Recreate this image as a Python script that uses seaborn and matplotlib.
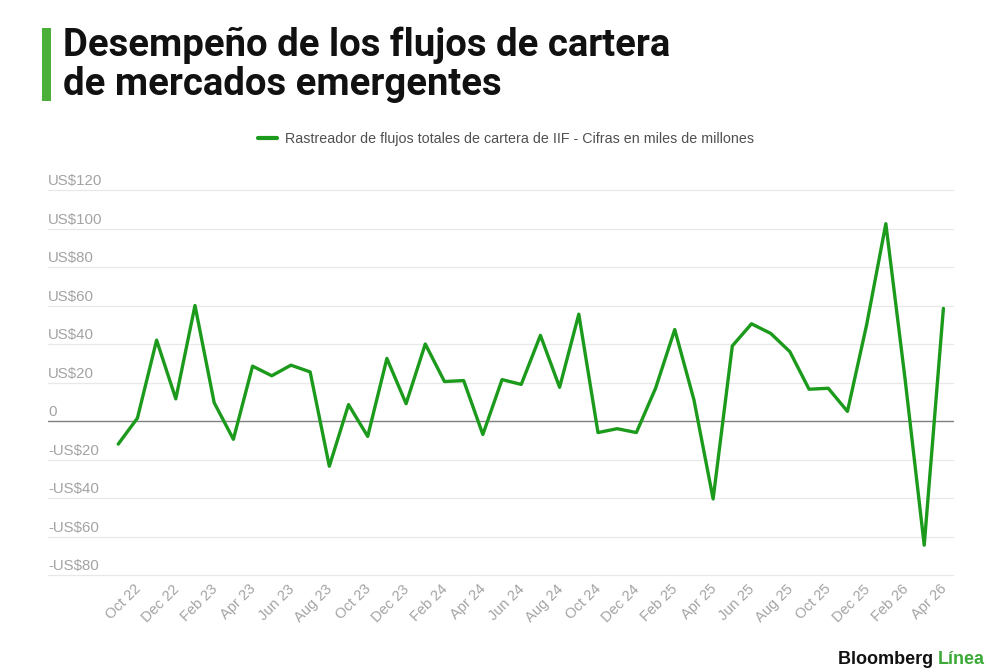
import numpy as np
import pandas as pd
import matplotlib
matplotlib.use("Agg")
import matplotlib.pyplot as plt
from matplotlib.patches import Rectangle
from matplotlib.transforms import ScaledTranslation
import seaborn as sns

# ---- data ----
months = ["Sep 22", "Oct 22", "Nov 22", "Dec 22", "Jan 23", "Feb 23", "Mar 23", "Apr 23",
          "May 23", "Jun 23", "Jul 23", "Aug 23", "Sep 23", "Oct 23", "Nov 23", "Dec 23",
          "Jan 24", "Feb 24", "Mar 24", "Apr 24", "May 24", "Jun 24", "Jul 24", "Aug 24",
          "Sep 24", "Oct 24", "Nov 24", "Dec 24", "Jan 25", "Feb 25", "Mar 25", "Apr 25",
          "May 25", "Jun 25", "Jul 25", "Aug 25", "Sep 25", "Oct 25", "Nov 25", "Dec 25",
          "Jan 26", "Feb 26", "Mar 26", "Apr 26"]
flows = [-12, 1.5, 42, 11.5, 60, 9.5, -9.5, 28.5, 23.5, 29, 25.5, -23.5, 8.5, -8, 32.5,
         9, 40, 20.5, 21, -7, 21.5, 19, 44.5, 17.5, 55.5, -6, -4, -6, 17, 47.5, 11,
         -40.5, 39, 50.5, 45.5, 36, 16.5, 17, 5, 50, 102.5, 22, -64.5, 58.5]
tick_labels = ["Oct 22", "Dec 22", "Feb 23", "Apr 23", "Jun 23", "Aug 23", "Oct 23",
               "Dec 23", "Feb 24", "Apr 24", "Jun 24", "Aug 24", "Oct 24", "Dec 24",
               "Feb 25", "Apr 25", "Jun 25", "Aug 25", "Oct 25", "Dec 25", "Feb 26", "Apr 26"]
y_ticks = [-80, -60, -40, -20, 0, 20, 40, 60, 80, 100, 120]
y_tick_labels = ["-US$80", "-US$60", "-US$40", "-US$20", "0", "US$20", "US$40",
                 "US$60", "US$80", "US$100", "US$120"]
series_name = "Rastreador de flujos totales de cartera de IIF - Cifras en miles de millones"
title = "Desempeño de los flujos de cartera\nde mercados emergentes"

df = pd.DataFrame({"pos": np.arange(len(months)), "month": months, "flow": flows})

sns.set_theme(style="white")
plt.rcParams["font.family"] = ["Liberation Sans", "DejaVu Sans"]

GREEN = "#1c9a1c"
GRAY_TXT = "#a3a3a3"

fig = plt.figure(figsize=(10, 6.69), dpi=100)
fig.patch.set_facecolor("white")
ax = fig.add_axes([0.048, 1 - 575 / 669, 0.905, (575 - 190) / 669])

sns.lineplot(data=df, x="pos", y="flow", ax=ax, color=GREEN, linewidth=2.4,
             label=series_name, legend=False)

ax.set_xlim(-3.66, 43.5)
ax.set_ylim(-80, 120)
for s in ax.spines.values():
    s.set_visible(False)

# gridlines
for v in y_ticks:
    ax.axhline(v, color="#7f7f7f" if v == 0 else "#e8e8e8",
               linewidth=1.0 if v == 0 else 0.9, zorder=0, clip_on=False)

ax.set_yticks([])
for v, lab in zip(y_ticks, y_tick_labels):
    ax.text(0.0, v + 1.0, lab, transform=ax.get_yaxis_transform(), ha="left",
            va="bottom", fontsize=10.8, color=GRAY_TXT)

tick_pos = [months.index(t) for t in tick_labels]
ax.set_xticks(tick_pos)
ax.set_xticklabels(tick_labels, rotation=45, ha="right", rotation_mode="anchor",
                   fontsize=10.5, color=GRAY_TXT)
ax.tick_params(axis="x", length=0, pad=5)
shift = ScaledTranslation(-4 / 100, 0, fig.dpi_scale_trans)
for lbl in ax.get_xticklabels():
    lbl.set_transform(lbl.get_transform() + shift)
ax.set_xlabel("")
ax.set_ylabel("")

# legend
handles, labels = ax.get_legend_handles_labels()
leg = ax.legend(handles, labels, loc="center", bbox_to_anchor=(0.506, 1 - 139 / 669),
                bbox_transform=fig.transFigure, frameon=False, handlelength=1.3,
                handletextpad=0.6, fontsize=10.3)
for t in leg.get_texts():
    t.set_color("#505050")
for l in leg.get_lines():
    l.set_linewidth(3)

# title with green bar
fig.patches.append(Rectangle((42 / 1000, 1 - 101 / 669), 9 / 1000, 73 / 669,
                             transform=fig.transFigure, facecolor="#4caf3a",
                             edgecolor="none"))
fig.text(63 / 1000, 1 - 65 / 669, title, ha="left", va="center", fontsize=27.5,
         fontweight="bold", color="#111111", linespacing=1.05,
         family=["Roboto", "DejaVu Sans"])

# logo
lin = fig.text(0.985, 1 - 660 / 669, "Línea", ha="right", va="center",
               fontsize=13, fontweight="bold", color="#3aa935")
plt.annotate("Bloomberg ", xy=(0, 0), xycoords=lin, ha="right", va="bottom",
             fontsize=13, fontweight="bold", color="#111111",
             annotation_clip=False)

fig.savefig("out.png", dpi=100, facecolor="white")
